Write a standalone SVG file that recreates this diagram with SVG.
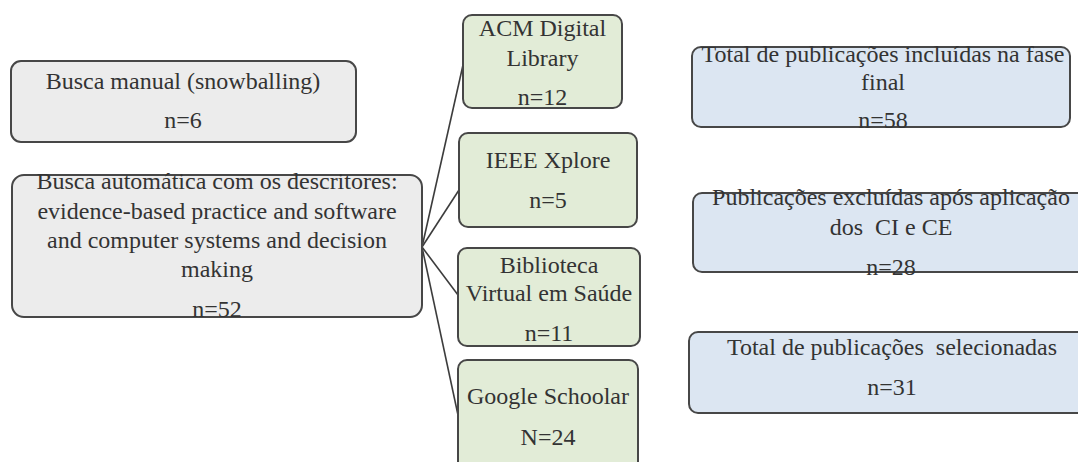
<svg xmlns="http://www.w3.org/2000/svg" width="1078" height="462" viewBox="0 0 1078 462">
<style>
.g,.gr,.b{stroke:#474747;stroke-width:2}
.g{fill:#ececec}
.gr{fill:#e2ecd7}
.b{fill:#dce6f2}
text{font-family:"Liberation Serif","Times New Roman",serif;font-size:24px;fill:#333;text-anchor:middle}
.c line{stroke:#3c3c3c;stroke-width:1.6}
</style>
<rect width="1078" height="462" fill="#fff"/>
<g class="c" id="connectors">
<line x1="422" y1="247" x2="463" y2="65"/>
<line x1="422" y1="247" x2="459" y2="190"/>
<line x1="422" y1="247" x2="458" y2="295"/>
<line x1="422" y1="247" x2="458" y2="415"/>
</g>
<g id="manual">
<rect class="g" x="11" y="61" width="345" height="81" rx="10"/>
<text x="183" y="89">Busca manual (snowballing)</text>
<text x="183" y="128">n=6</text>
</g>
<g id="automatica">
<rect class="g" x="12" y="175" width="410" height="142" rx="12"/>
<text x="217" y="189">Busca automática com os descritores:</text>
<text x="217" y="219">evidence-based practice and software</text>
<text x="217" y="248">and computer systems and decision</text>
<text x="217" y="277">making</text>
<text x="217" y="317">n=52</text>
</g>
<g id="acm">
<rect class="gr" x="463" y="15" width="159" height="93" rx="9"/>
<text x="542.5" y="36">ACM Digital</text>
<text x="542.5" y="66">Library</text>
<text x="542.5" y="105">n=12</text>
</g>
<g id="ieee">
<rect class="gr" x="459" y="133" width="178" height="94" rx="9"/>
<text x="548" y="168">IEEE Xplore</text>
<text x="548" y="208">n=5</text>
</g>
<g id="bvs">
<rect class="gr" x="458" y="248" width="182" height="98" rx="9"/>
<text x="549" y="273">Biblioteca</text>
<text x="549" y="301">Virtual em Saúde</text>
<text x="549" y="341">n=11</text>
</g>
<g id="google">
<rect class="gr" x="458" y="360" width="180" height="110" rx="9"/>
<text x="548" y="404">Google Schoolar</text>
<text x="548" y="445">N=24</text>
</g>
<g id="incluidas">
<rect class="b" x="692" y="47" width="378" height="80" rx="9"/>
<text x="883" y="62">Total de publicações incluídas na fase</text>
<text x="883" y="90">final</text>
<text x="883" y="128">n=58</text>
</g>
<g id="excluidas">
<rect class="b" x="693" y="193" width="400" height="79" rx="9"/>
<text x="891" y="205">Publicações excluídas após aplicação</text>
<text x="891" y="235" xml:space="preserve">dos  CI e CE</text>
<text x="891" y="275">n=28</text>
</g>
<g id="selecionadas">
<rect class="b" x="689" y="332" width="405" height="81" rx="9"/>
<text x="892" y="355" xml:space="preserve">Total de publicações  selecionadas</text>
<text x="892" y="395">n=31</text>
</g>
</svg>
